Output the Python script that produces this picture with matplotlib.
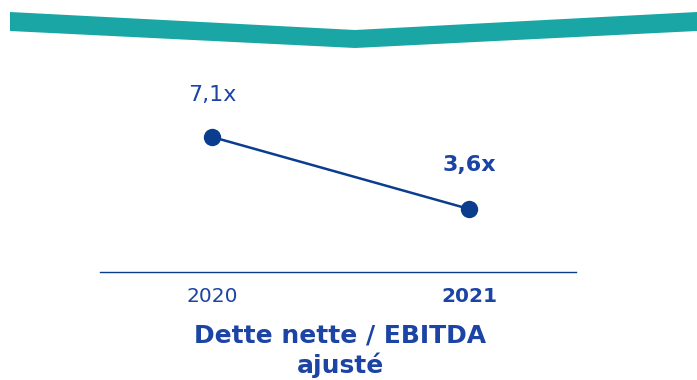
import matplotlib
matplotlib.use("Agg")
import matplotlib.pyplot as plt
from matplotlib.patches import Polygon

years = ["2020", "2021"]
ratio = [7.1, 3.6]
value_labels = ["7,1x", "3,6x"]
title = "Dette nette / EBITDA\najusté"

BLUE = "#0b3d8f"
TXT = "#1c44a4"
TEAL = "#1ba6a6"
plt.rcParams["font.family"] = ["DejaVu Sans"]

fig = plt.figure(figsize=(6.97, 3.80), dpi=100)

# teal chevron band on top, in pixel-ish figure coords
W, H = 697.0, 380.0
band = [(10, 12), (355, 30), (697, 12), (697, 31), (355, 48), (10, 31)]
fig.patches.append(Polygon([(x / W, 1 - y / H) for x, y in band], closed=True,
                           transform=fig.transFigure, fc=TEAL, ec="none"))

ax = fig.add_axes([100 / W, 1 - 272 / H, 476 / W, 212 / H])
xs = range(len(years))
ax.plot(xs, ratio, "-o", c=BLUE, lw=1.8, ms=11.5)
ax.set_xlim(-0.436, 1.416)
ax.set_ylim(0.537, 10.84)
for s in ("top", "right", "left"):
    ax.spines[s].set_visible(False)
ax.spines["bottom"].set_color(BLUE)
ax.spines["bottom"].set_linewidth(1.0)
ax.set_yticks([])
ax.set_xticks(list(xs))
ax.set_xticklabels(years, fontsize=14.5, color=TXT)
ax.get_xticklabels()[1].set_fontweight("bold")
ax.tick_params(axis="x", length=0, pad=11)

ax.annotate(value_labels[0], (0, ratio[0]), xytext=(0, 30), textcoords="offset points",
            ha="center", va="center", fontsize=16, color=TXT)
ax.annotate(value_labels[1], (1, ratio[1]), xytext=(0, 32), textcoords="offset points",
            ha="center", va="center", fontsize=16, color=TXT, fontweight="bold")

fig.text(340 / W, 1 - 351 / H, title, ha="center", va="center", fontsize=18,
         fontweight="bold", color=TXT, linespacing=1.25)

fig.savefig("out.png", dpi=100)
